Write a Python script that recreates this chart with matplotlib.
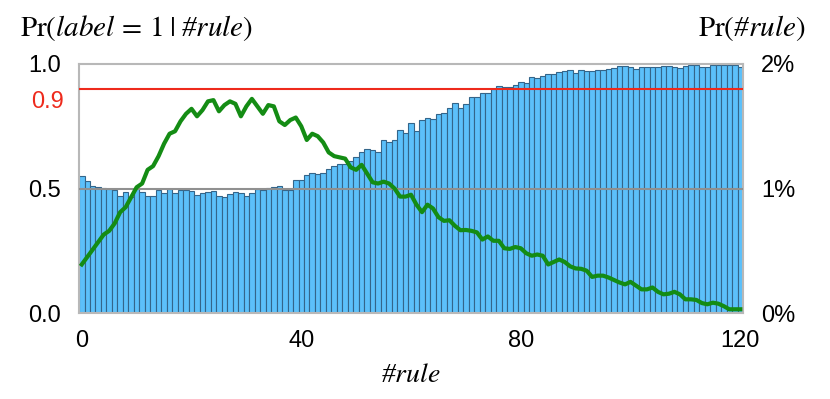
#!/usr/bin/env python3
"""
规则数量与标签概率的关系图
柱状图: Pr(label = 1 | #rule)  (左轴)
绿色曲线: Pr(#rule)             (右轴, 百分比)
"""

import matplotlib.pyplot as plt
from matplotlib.ticker import FixedLocator
import matplotlib.transforms as mtransforms

plt.rcParams['font.family'] = ['Liberation Sans', 'DejaVu Sans']
plt.rcParams['mathtext.fontset'] = 'stix'

# 规则数量 0..120
rule_counts = list(range(121))

# Pr(label = 1 | #rule)
label_prob = [
    0.550, 0.529, 0.511, 0.507, 0.502, 0.498, 0.495, 0.469, 0.485, 0.465,
    0.502, 0.486, 0.468, 0.470, 0.495, 0.480, 0.497, 0.480, 0.495, 0.495,
    0.490, 0.474, 0.480, 0.484, 0.490, 0.468, 0.464, 0.478, 0.485, 0.482,
    0.468, 0.482, 0.498, 0.494, 0.504, 0.508, 0.510, 0.496, 0.496, 0.533,
    0.533, 0.553, 0.562, 0.560, 0.562, 0.578, 0.589, 0.597, 0.598, 0.611,
    0.627, 0.647, 0.657, 0.655, 0.646, 0.693, 0.688, 0.696, 0.734, 0.723,
    0.764, 0.731, 0.774, 0.785, 0.779, 0.798, 0.805, 0.825, 0.843, 0.825,
    0.839, 0.866, 0.866, 0.883, 0.885, 0.898, 0.910, 0.908, 0.908, 0.917,
    0.926, 0.922, 0.946, 0.944, 0.952, 0.958, 0.960, 0.968, 0.971, 0.976,
    0.965, 0.976, 0.973, 0.973, 0.977, 0.977, 0.981, 0.985, 0.991, 0.991,
    0.987, 0.979, 0.989, 0.987, 0.987, 0.987, 0.992, 0.992, 0.987, 0.983,
    0.992, 0.995, 0.995, 0.987, 0.987, 0.995, 0.997, 0.997, 0.997, 0.997,
    0.989,
]

# Pr(#rule), 单位: %
rule_prob_pct = [
    0.39, 0.45, 0.51, 0.57, 0.63, 0.66, 0.72, 0.81, 0.85, 0.93,
    1.01, 1.04, 1.15, 1.18, 1.26, 1.36, 1.44, 1.46, 1.54, 1.60,
    1.64, 1.58, 1.63, 1.70, 1.71, 1.62, 1.67, 1.70, 1.68, 1.58,
    1.66, 1.72, 1.66, 1.60, 1.67, 1.66, 1.54, 1.51, 1.55, 1.57,
    1.50, 1.39, 1.44, 1.42, 1.37, 1.29, 1.26, 1.25, 1.24, 1.17,
    1.15, 1.19, 1.12, 1.05, 1.04, 1.055, 1.04, 1.00, 0.935, 0.935,
    0.95, 0.87, 0.81, 0.87, 0.84, 0.77, 0.74, 0.745, 0.70, 0.665,
    0.667, 0.66, 0.648, 0.59, 0.615, 0.58, 0.58, 0.52, 0.515, 0.53,
    0.52, 0.48, 0.46, 0.47, 0.46, 0.39, 0.41, 0.43, 0.41, 0.375,
    0.358, 0.355, 0.34, 0.29, 0.30, 0.30, 0.285, 0.265, 0.245, 0.23,
    0.25, 0.22, 0.19, 0.19, 0.205, 0.17, 0.15, 0.155, 0.17, 0.15,
    0.11, 0.11, 0.105, 0.08, 0.07, 0.083, 0.075, 0.055, 0.03, 0.03,
    0.03,
]

x_ticks = [0, 40, 80, 120]
left_ticks = [0.0, 0.5, 1.0]
right_ticks = [0.0, 0.01, 0.02]
right_labels = ['0%', '1%', '2%']
threshold = 0.9

fig = plt.figure(figsize=(8.3, 3.99), dpi=100)
ax = fig.add_axes([0.0952, 0.2155, 0.8, 0.6241])

# 柱状图
ax.bar(rule_counts, label_prob, width=1.0, color='#5cc0fa',
       edgecolor='#34658a', linewidth=0.8, zorder=2)
ax.axhline(0.5, color='#909090', linewidth=1.5, zorder=3)
ax.axhline(threshold, color='#ee2a1c', linewidth=1.5, zorder=3)

ax.set_xlim(-0.5, 120.5)
ax.set_ylim(0, 1.0)
ax.xaxis.set_major_locator(FixedLocator(x_ticks))
ax.set_yticks(left_ticks)
ax.set_yticklabels(['0.0', '0.5', '1.0'])
ax.tick_params(axis='y', length=0, labelsize=17, pad=13)
ax.tick_params(axis='x', length=0, labelsize=17, pad=12)
for s in ax.spines.values():
    s.set_color('#b8b8b8')
    s.set_linewidth(1.5)

# 阈值标签
trans = mtransforms.blended_transform_factory(ax.transAxes, ax.transData)
ax.text(-0.0235, threshold - 0.01, '0.9', transform=trans, ha='right',
        va='top', fontsize=17, color='#ee2a1c')

# 右轴: Pr(#rule)
ax2 = ax.twinx()
ax2.plot(rule_counts, [v / 100 for v in rule_prob_pct], color='#148c14',
         linewidth=3.0, solid_joinstyle='round', zorder=4)
ax2.set_ylim(0, 0.02)
ax2.set_yticks(right_ticks)
ax2.set_yticklabels(right_labels)
ax2.tick_params(axis='y', length=0, labelsize=17, pad=13)
for s in ax2.spines.values():
    s.set_visible(False)

# 轴标题 ('#' 放在数学模式之外)
serif = dict(family='Liberation Serif', style='italic')
fig.text(0.024, 0.93, r'$\mathrm{Pr}(label\,=\,1\;|\;$#$rule)$',
         fontsize=21, ha='left', va='center', **serif)
fig.text(0.97, 0.93, r'$\mathrm{Pr}($#$rule)$', fontsize=21,
         ha='right', va='center', **serif)
ax.set_xlabel(r'#$rule$', fontsize=20, labelpad=8, **serif)

fig.savefig('out.png', dpi=100, facecolor='white')
